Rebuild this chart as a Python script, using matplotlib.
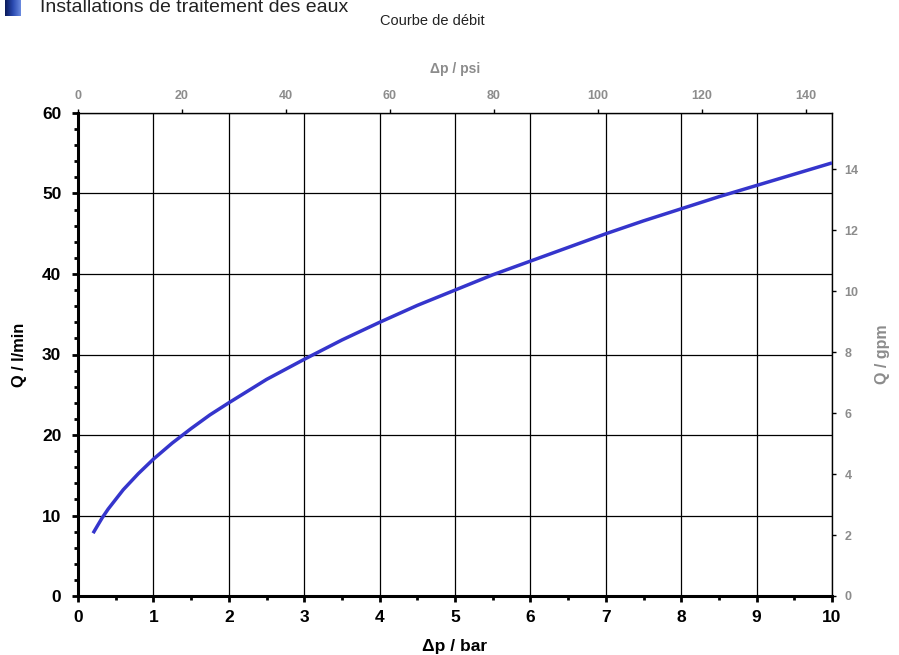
import matplotlib
matplotlib.use('Agg')
import matplotlib.pyplot as plt
import numpy as np

plt.rcParams['font.family'] = ['Liberation Sans', 'DejaVu Sans']

# pressure drop (bar) -> flow (l/min)
dp_bar = [0.2, 0.25, 0.32, 0.4, 0.5, 0.6, 0.7, 0.8, 0.9, 1.0, 1.1, 1.25, 1.5, 1.75,
          2.0, 2.5, 3.0, 3.5, 4.0, 4.5, 5.0, 5.5, 6.0, 6.5, 7.0, 7.5, 8.0, 8.5,
          9.0, 9.5, 10.0]
q_lmin = [7.8, 8.6, 9.7, 10.8, 12.0, 13.2, 14.2, 15.2, 16.1, 17.0, 17.8, 19.0,
          20.8, 22.5, 24.0, 26.9, 29.4, 31.8, 34.0, 36.1, 38.0, 39.9, 41.6, 43.3,
          45.0, 46.6, 48.1, 49.6, 51.0, 52.4, 53.8]

x_ticks = [0, 1, 2, 3, 4, 5, 6, 7, 8, 9, 10]
y_ticks = [0, 10, 20, 30, 40, 50, 60]
psi_ticks = [0, 20, 40, 60, 80, 100, 120, 140]
gpm_ticks = [0, 2, 4, 6, 8, 10, 12, 14]

PSI = 14.5038
GPM = 0.264172
gray = '#8c8c8c'
blue = '#3535cc'

fig = plt.figure(figsize=(8.99, 6.55), dpi=100)
ax = fig.add_axes([78/899, 1-596/655, 754/899, 483/655])

ax.plot(dp_bar, q_lmin, color=blue, lw=2.5, solid_capstyle='butt',
        solid_joinstyle='round', zorder=3)

ax.set_xlim(0, 10)
ax.set_ylim(0, 60)
ax.set_xticks(x_ticks)
ax.set_yticks(y_ticks)
ax.set_xticks(np.arange(0, 10.01, 0.5), minor=True)
ax.set_yticks(np.arange(0, 60.01, 2), minor=True)
ax.grid(True, which='major', color='black', lw=0.9)
ax.tick_params(which='major', direction='out', length=4, width=2, labelsize=12.5)
ax.tick_params(axis='y', which='major', pad=8)
ax.tick_params(axis='x', which='major', pad=6)
ax.tick_params(which='minor', direction='out', length=3, width=2)
for lab in ax.get_xticklabels() + ax.get_yticklabels():
    lab.set_fontweight('bold')
ax.spines['left'].set_linewidth(2.2)
ax.spines['bottom'].set_linewidth(2.2)
ax.spines['top'].set_linewidth(1)
ax.spines['right'].set_linewidth(1)

ax.set_xlabel('Δp / bar', fontsize=12.5, fontweight='bold', labelpad=10)
ax.set_ylabel('Q / l/min', fontsize=11.8, fontweight='bold', labelpad=11)

top = ax.secondary_xaxis('top', functions=(lambda b: b*PSI, lambda p: p/PSI))
top.set_xticks(psi_ticks)
top.tick_params(direction='out', length=3, width=1, labelsize=9, labelcolor=gray, pad=5)
for lab in top.get_xticklabels():
    lab.set_fontweight('bold')
top.spines['top'].set_visible(False)
top.set_xlabel('Δp / psi', fontsize=10, fontweight='bold', color=gray, labelpad=12)

right = ax.secondary_yaxis('right', functions=(lambda q: q*GPM, lambda g: g/GPM))
right.set_yticks(gpm_ticks)
right.tick_params(direction='out', length=3, width=1, labelsize=9, labelcolor=gray, pad=6)
for lab in right.get_yticklabels():
    lab.set_fontweight('bold')
right.spines['right'].set_visible(False)
right.set_ylabel('Q / gpm', fontsize=11.5, fontweight='bold', color=gray, labelpad=12)

# header
fig.text(40/899, 1-7/655, 'Installations de traitement des eaux', fontsize=14,
         ha='left', va='center', color='#222222')
fig.text(380/899, 1-21/655, 'Courbe de débit', fontsize=10.5, ha='left', va='center',
         color='#222222')
icon = fig.add_axes([5/899, 1-16/655, 16/899, 16/655])
grad = np.linspace(0, 1, 50).reshape(1, -1)
icon.imshow(grad, cmap=matplotlib.colors.LinearSegmentedColormap.from_list(
    'g', ['#0a1a5a', '#2a4ab0', '#6a8ae0']), aspect='auto')
icon.axis('off')

fig.savefig('out.png', dpi=100)
